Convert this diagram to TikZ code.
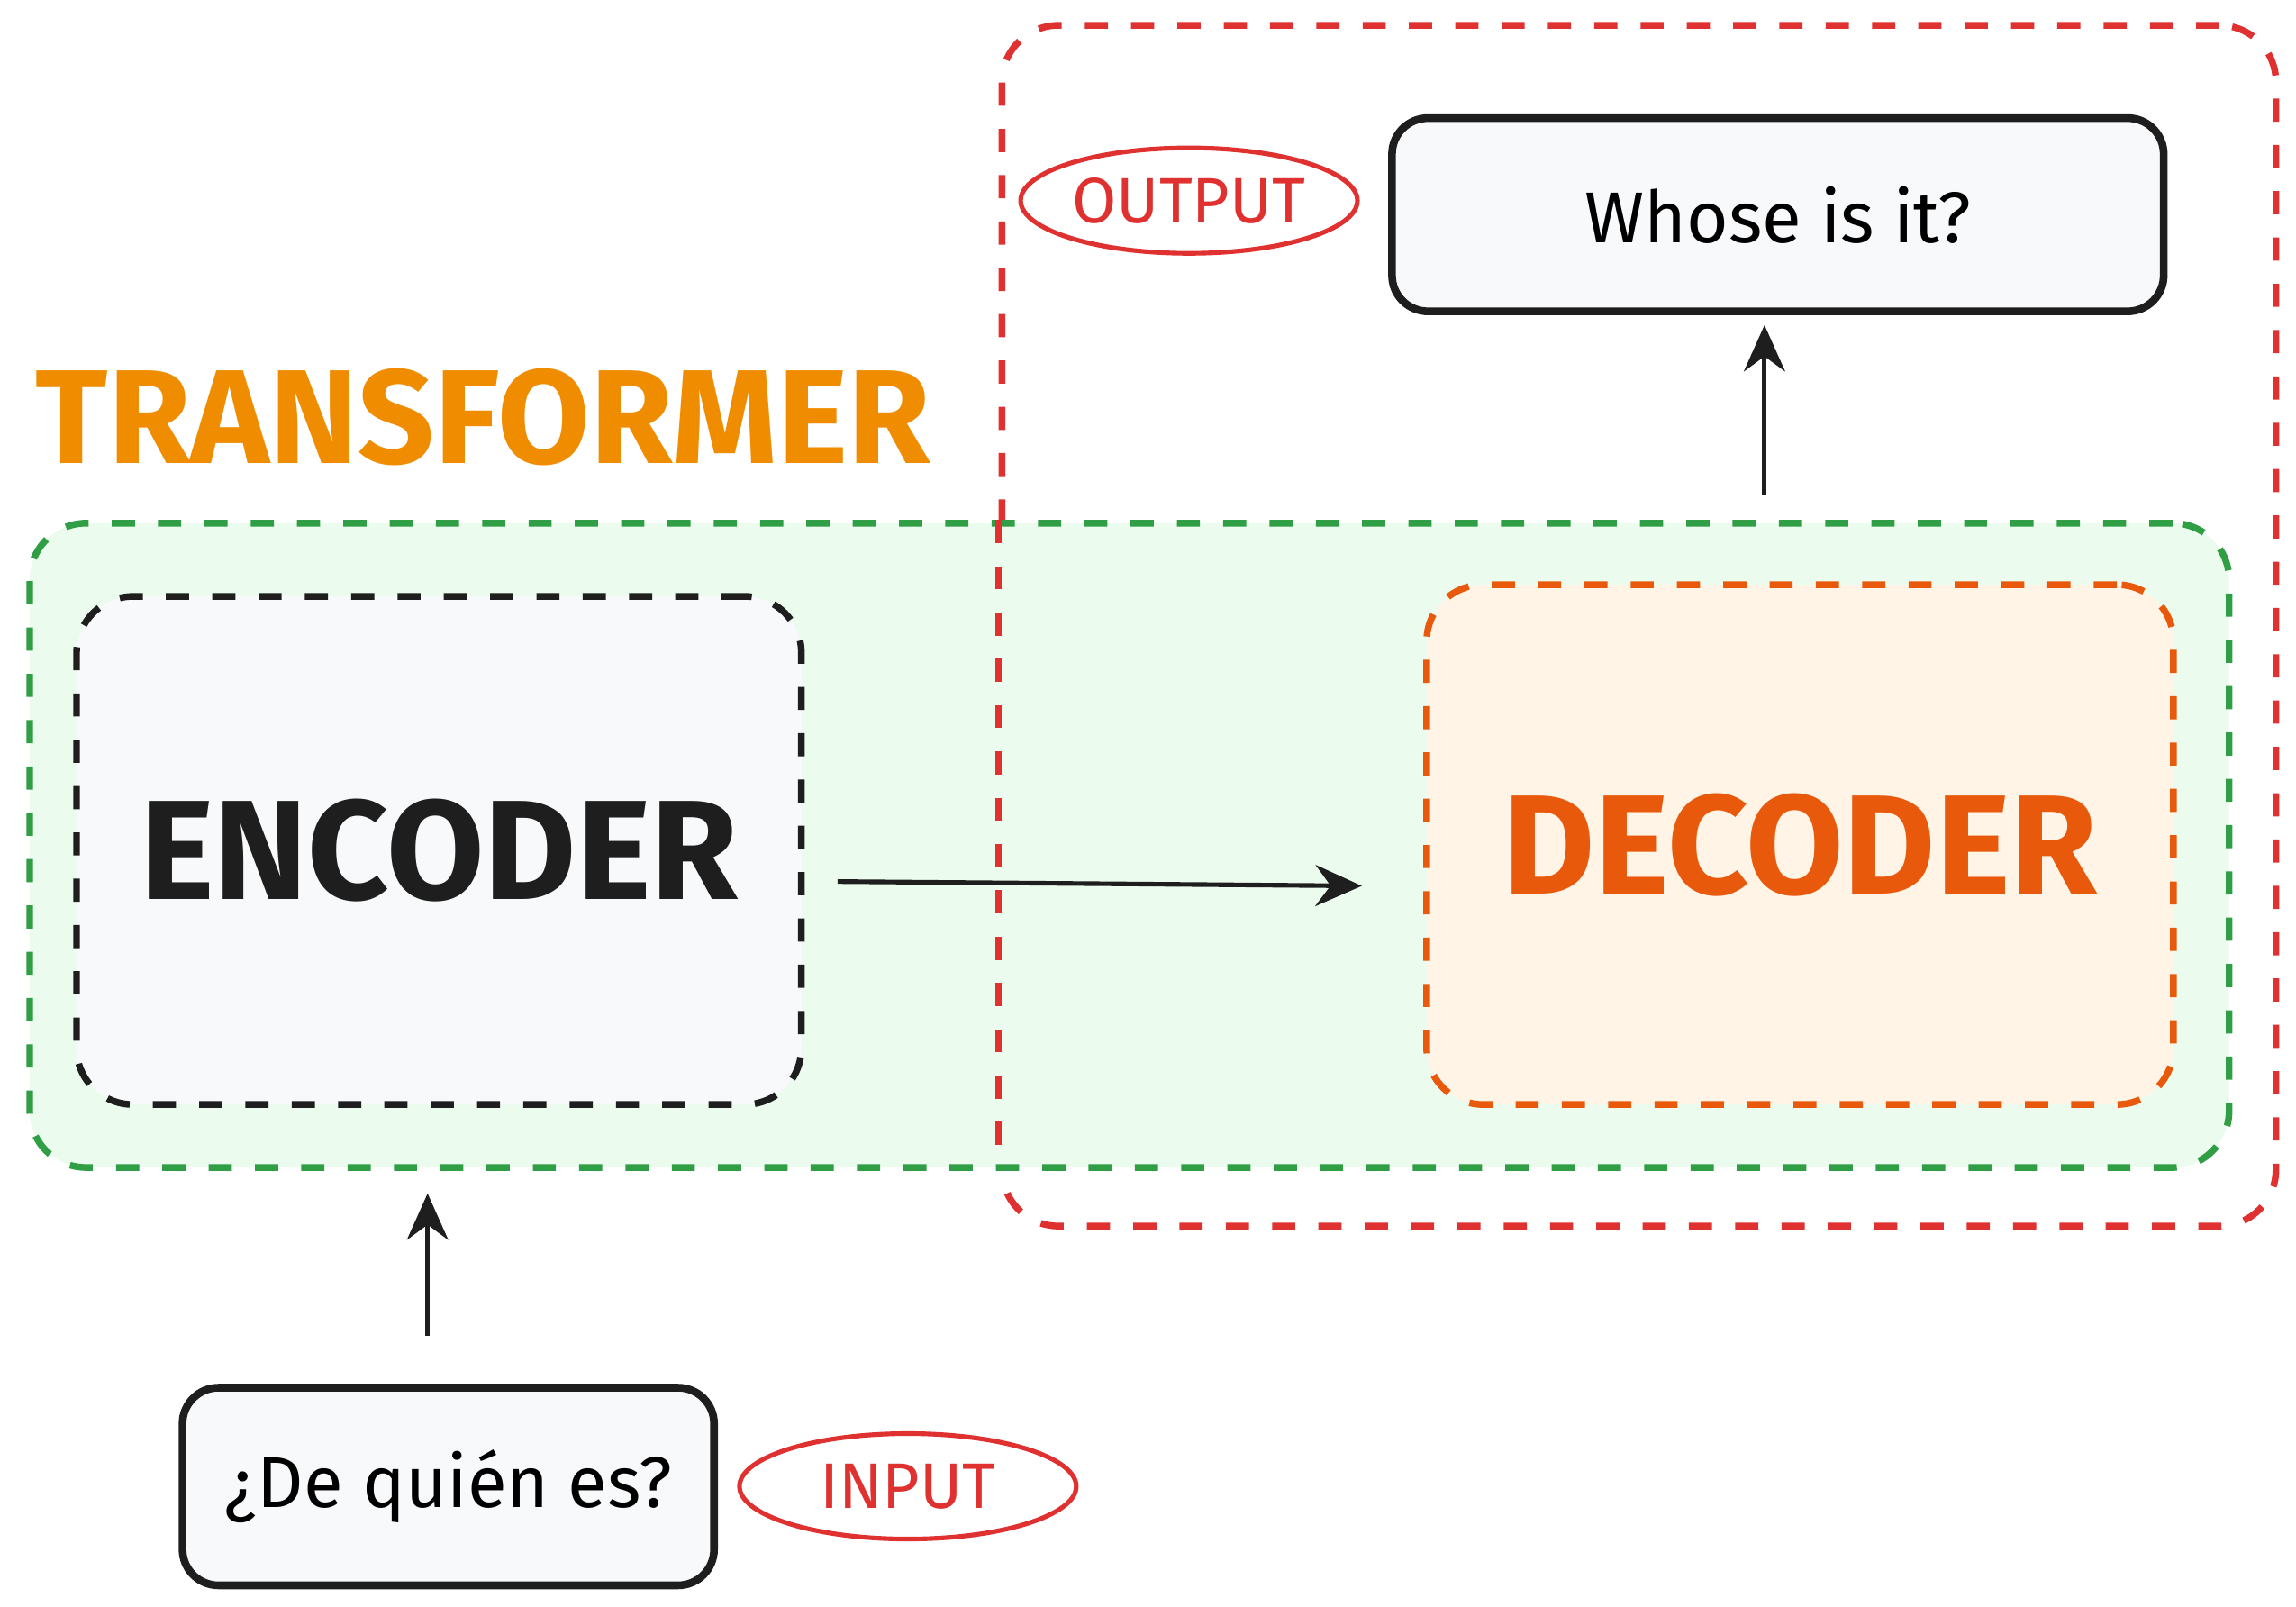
\documentclass[tikz,border=0pt]{standalone}
\usepackage{fontspec}
\setmainfont{Fira Sans}
\usetikzlibrary{shapes.geometric,arrows.meta}
\definecolor{rd}{HTML}{E03131}
\definecolor{gr}{HTML}{2F9E44}
\definecolor{grf}{HTML}{EBFBEE}
\definecolor{or}{HTML}{E8590C}
\definecolor{orf}{HTML}{FFF4E6}
\definecolor{yl}{HTML}{F08C00}
\definecolor{gy}{HTML}{F8F9FA}
\definecolor{bk}{HTML}{1E1E1E}
\tikzset{
 dbox/.style={draw, line width=2.6pt, dash pattern=on 9pt off 9pt, rounded corners=22pt},
 sbox/.style={draw=bk, line width=3pt, fill=gy, rounded corners=14pt},
 tag/.style={ellipse, draw=rd, line width=1.8pt, text=rd, font=\fontsize{25}{27}\selectfont, inner sep=-8pt},
 arr/.style={draw=bk, line width=1.8pt, -{Stealth[length=18pt,width=16pt]}}
}
\begin{document}
\begin{tikzpicture}[x=0.02cm,y=-0.02cm]
\useasboundingbox (0,0) rectangle (1568,1097);
\node[dbox, draw=rd, minimum width=870*0.02cm, minimum height=820*0.02cm, anchor=north west] (out) at (682,15) {};
\node[dbox, draw=gr, fill=grf, minimum width=1502*0.02cm, minimum height=440*0.02cm, anchor=north west] (tr) at (18,355) {};
\draw[rd, line width=2.6pt, dash pattern=on 9pt off 9pt] (682,355) -- (682,795);
\node[dbox, draw=bk, fill=gy, minimum width=495*0.02cm, minimum height=347*0.02cm, anchor=north west, font=\fontsize{55}{60}\selectfont\bfseries, text=bk] (enc) at (50,405) {ENCODER};
\node[dbox, draw=or, fill=orf, minimum width=510*0.02cm, minimum height=355*0.02cm, anchor=north west, font=\fontsize{55}{60}\selectfont\bfseries, text=or] (dec) at (972,397) {DECODER};
\node[sbox, minimum width=527*0.02cm, minimum height=132*0.02cm, anchor=north west, font=\fontsize{28}{30}\selectfont] (o) at (948,78) {Whose is it?};
\node[sbox, minimum width=363*0.02cm, minimum height=135*0.02cm, anchor=north west, font=\fontsize{28}{30}\selectfont] (i) at (122,945) {¿De quién es?};
\node[tag, minimum width=230*0.02cm, minimum height=72*0.02cm] (ot) at (812,137) {OUTPUT};
\node[tag, minimum width=230*0.02cm, minimum height=72*0.02cm] (it) at (620,1015) {INPUT};
\node[text=yl, font=\fontsize{52}{56}\selectfont\bfseries] (t) at (330,285) {TRANSFORMER};
\coordinate (a1) at (572,602); \coordinate (a2) at (930,605);
\coordinate (b1) at (292,912); \coordinate (b2) at (292,815);
\coordinate (c1) at (1205,338); \coordinate (c2) at (1205,222);
\draw[arr] (a1) -- (a2);
\draw[arr] (b1) -- (b2);
\draw[arr] (c1) -- (c2);
\end{tikzpicture}
\end{document}
